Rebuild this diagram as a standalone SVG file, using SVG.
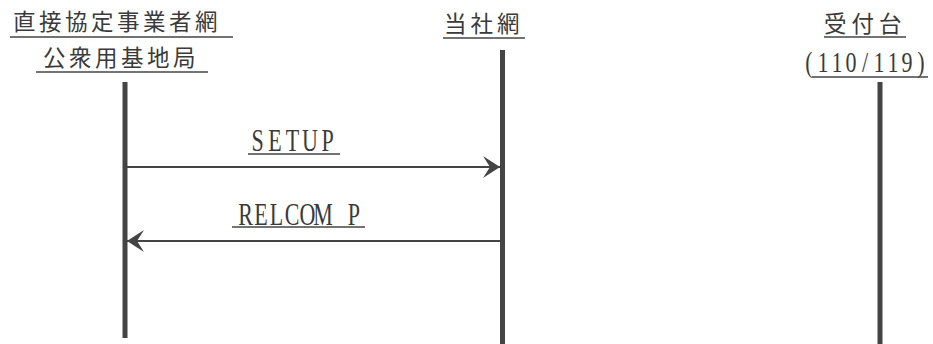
<svg xmlns="http://www.w3.org/2000/svg" width="933" height="344" viewBox="0 0 933 344">
<style>
.cjk{font-family:"Noto Sans CJK JP","Noto Sans CJK SC",sans-serif;font-size:22.5px;fill:#3a3a3a;letter-spacing:3.5px}
.lat{font-family:"Liberation Serif",serif;font-size:22px;fill:#3a3a3a;text-anchor:middle}
.ul{stroke:#444;stroke-width:1.6;fill:none}
.life{stroke:#444;stroke-width:5;fill:none}
.msg{stroke:#444;stroke-width:1.8;fill:none}
</style>
<defs>
<marker id="ah" markerUnits="userSpaceOnUse" markerWidth="18" markerHeight="24" refX="17" refY="11" orient="auto">
<path d="M0,0 L17,11 L0,22 L7,11 z" fill="#444"/>
</marker>
</defs>
<rect width="933" height="344" fill="#fff"/>
<g id="node-station">
<text class="cjk" x="13" y="30">直接協定事業者網</text>
<line class="ul" x1="10" y1="37" x2="233" y2="37"/>
<text class="cjk" x="43" y="66">公衆用基地局</text>
<line class="ul" x1="36" y1="72" x2="208" y2="72"/>
<line class="life" x1="125" y1="82" x2="125" y2="338"/>
</g>
<g id="node-own">
<text class="cjk" x="444" y="32" style="letter-spacing:4px">当社網</text>
<line class="ul" x1="443" y1="38" x2="525" y2="38"/>
<line class="life" x1="502.5" y1="50" x2="502.5" y2="344"/>
</g>
<g id="node-desk">
<text class="cjk" x="824" y="32" style="letter-spacing:5px">受付台</text>
<line class="ul" x1="824" y1="37" x2="906" y2="37"/>
<text class="lat" transform="translate(0,72) scale(1,1.3)" x="809 823 837 851 865 879 893 907 921" y="0">(110/119)</text>
<line class="ul" x1="812" y1="77" x2="928" y2="77"/>
<line class="life" x1="880" y1="82" x2="880" y2="344"/>
</g>
<g id="connectors">
<line class="msg" x1="127" y1="167" x2="500" y2="167" marker-end="url(#ah)"/>
<text class="lat" transform="translate(0,151) scale(1,1.45)" x="257.5 275 292.5 310 327.5" y="0">SETUP</text>
<line class="ul" x1="248" y1="154" x2="340" y2="154"/>
<line class="msg" x1="500" y1="241" x2="127" y2="241" marker-end="url(#ah)"/>
<text class="lat" transform="translate(0,225) scale(1,1.4)" x="245.5 261 276.5 292 307.5 323 338.5 354" y="0">RELCOM P</text>
<line class="ul" x1="232" y1="227" x2="365" y2="227"/>
</g>
</svg>
